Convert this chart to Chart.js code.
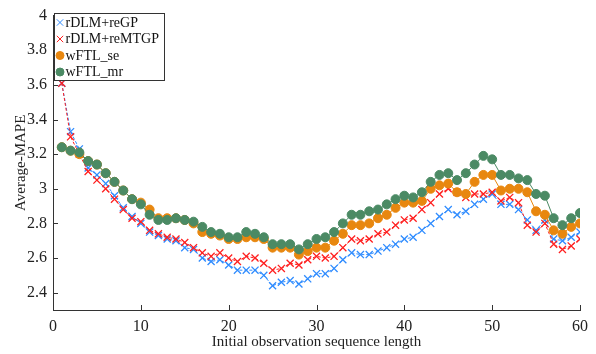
<!DOCTYPE html>
<html><head><meta charset="utf-8">
<script src="https://cdn.jsdelivr.net/npm/chart.js@4/dist/chart.umd.min.js"></script>
<style>html,body{margin:0;padding:0;background:#fff}#wrap{width:596px;height:354px;position:relative}</style>
</head><body><div id="wrap"><canvas id="c" width="596" height="354"></canvas></div>
<script>
const lengths = [1,2,3,4,5,6,7,8,9,10,11,12,13,14,15,16,17,18,19,20,21,22,23,24,25,26,27,28,29,30,31,32,33,34,35,36,37,38,39,40,41,42,43,44,45,46,47,48,49,50,51,52,53,54,55,56,57,58,59,60];
const seriesNames = ['rDLM+reGP','rDLM+reMTGP','wFTL_se','wFTL_mr'];
const reGP = [3.61,3.33,3.23,3.12,3.08,3.03,2.96,2.89,2.84,2.80,2.75,2.73,2.71,2.70,2.66,2.65,2.60,2.58,2.59,2.56,2.53,2.53,2.53,2.50,2.44,2.46,2.47,2.45,2.48,2.51,2.51,2.54,2.59,2.63,2.62,2.62,2.64,2.66,2.68,2.71,2.72,2.76,2.80,2.84,2.88,2.85,2.87,2.91,2.94,2.97,2.91,2.91,2.88,2.82,2.76,2.82,2.71,2.70,2.72,2.75];
const reMTGP = [3.61,3.30,3.20,3.10,3.05,3.00,2.94,2.88,2.83,2.81,2.76,2.74,2.72,2.71,2.69,2.66,2.63,2.61,2.63,2.60,2.58,2.61,2.60,2.57,2.53,2.54,2.57,2.56,2.59,2.61,2.60,2.61,2.66,2.71,2.70,2.71,2.74,2.75,2.79,2.82,2.83,2.88,2.92,2.97,3.00,2.98,2.95,2.97,2.97,2.98,2.93,2.95,2.92,2.79,2.75,2.80,2.68,2.65,2.67,2.71];
const wFTLse = [3.24,3.22,3.20,3.16,3.14,3.09,3.04,2.99,2.94,2.92,2.88,2.83,2.83,2.83,2.82,2.80,2.75,2.74,2.73,2.71,2.71,2.72,2.72,2.71,2.66,2.66,2.66,2.62,2.64,2.66,2.66,2.70,2.74,2.79,2.79,2.80,2.83,2.85,2.89,2.92,2.92,2.93,3.00,3.02,3.03,2.98,2.97,3.04,3.08,3.08,2.99,3.00,3.00,2.98,2.87,2.85,2.76,2.74,2.78,2.80];
const wFTLmr = [3.24,3.22,3.21,3.16,3.14,3.09,3.04,2.99,2.94,2.91,2.85,2.82,2.82,2.83,2.82,2.81,2.78,2.75,2.74,2.72,2.72,2.75,2.74,2.72,2.68,2.68,2.68,2.65,2.68,2.71,2.72,2.75,2.80,2.85,2.85,2.87,2.88,2.91,2.94,2.96,2.95,2.98,3.04,3.08,3.09,3.05,3.09,3.14,3.19,3.17,3.08,3.08,3.06,3.05,2.97,2.96,2.83,2.79,2.83,2.86];
const xTicks = [0,10,20,30,40,50,60];
const yTicks = [2.4,2.6,2.8,3,3.2,3.4,3.6,3.8,4];

const SERIF = '"Liberation Serif", "Times New Roman", serif';
const colors = ['#2f8cff','#ff2020','#e8870f','#4b8a64'];
const styles = [
  {pointStyle:'crossRot', radius:5, dash:[3,2]},
  {pointStyle:'crossRot', radius:5, dash:[3,2]},
  {pointStyle:'circle', radius:4.5, dash:[]},
  {pointStyle:'circle', radius:4.5, dash:[]}
];
const allValues = [reGP, reMTGP, wFTLse, wFTLmr];
const drawOrder = [3,2,1,0];

const datasets = allValues.map((vals,i)=>({
  label: seriesNames[i],
  data: lengths.map((x,k)=>({x:x, y:vals[k]})),
  borderColor: colors[i],
  backgroundColor: colors[i],
  borderWidth: 1,
  borderDash: styles[i].dash,
  pointStyle: styles[i].pointStyle,
  pointRadius: styles[i].radius,
  pointBorderWidth: styles[i].pointStyle==='circle'?1:1.3,
  pointBackgroundColor: colors[i],
  pointBorderColor: colors[i],
  pointHoverRadius: styles[i].radius,
  tension: 0,
  order: drawOrder[i]
}));

const inwardTicks = {
  id:'inwardTicks',
  afterDraw(chart){
    const ctx = chart.ctx, xs = chart.scales.x, ys = chart.scales.y, a = chart.chartArea;
    ctx.save();
    ctx.strokeStyle = '#333'; ctx.lineWidth = 1;
    ctx.beginPath();
    xTicks.forEach(v=>{ const p = Math.round(xs.getPixelForValue(v))+0.5; ctx.moveTo(p, a.bottom); ctx.lineTo(p, a.bottom-5); });
    yTicks.forEach(v=>{ const p = Math.round(ys.getPixelForValue(v))+0.5; ctx.moveTo(a.left, p); ctx.lineTo(a.left+5, p); });
    ctx.stroke();
    ctx.restore();
  }
};

const boxLegend = {
  id:'boxLegend',
  afterDraw(chart){
    const ctx = chart.ctx;
    const bx = 54.5, by = 13.5, bw = 110, bh = 67;
    ctx.save();
    ctx.fillStyle = '#fff';
    ctx.fillRect(bx, by, bw, bh);
    ctx.strokeStyle = '#333'; ctx.lineWidth = 1;
    ctx.strokeRect(bx, by, bw, bh);
    const rows = [22.5, 39, 55.5, 72];
    seriesNames.forEach((name,i)=>{
      ctx.fillStyle = colors[i]; ctx.strokeStyle = colors[i];
      Chart.helpers.drawPoint(ctx, {pointStyle: styles[i].pointStyle, radius: styles[i].pointStyle==='circle'?4:4.5, borderWidth: 1.3, rotation:0}, 60, rows[i]);
      ctx.fillStyle = '#111';
      ctx.font = '14px ' + SERIF;
      ctx.textBaseline = 'middle';
      ctx.textAlign = 'left';
      ctx.fillText(name, 65.5, rows[i]+0.5);
    });
    ctx.restore();
  }
};

new Chart(document.getElementById('c'), {
  type:'line',
  data:{datasets},
  plugins:[inwardTicks, boxLegend],
  options:{
    responsive:false,
    animation:false,
    devicePixelRatio:1,
    layout:{padding:{top:11, right:16, left:0, bottom:0}},
    plugins:{legend:{display:false}, tooltip:{enabled:false}},
    scales:{
      x:{
        type:'linear', min:0, max:60,
        afterBuildTicks(s){ s.ticks = xTicks.map(v=>({value:v})); },
        afterFit(s){ s.height = 44; },
        grid:{drawOnChartArea:false, drawTicks:false},
        border:{display:true, color:'#333', width:1},
        ticks:{color:'#222', font:{family:SERIF, size:16}, padding:7, maxRotation:0},
        title:{display:true, text:'Initial observation sequence length', color:'#222', font:{family:SERIF, size:15}, padding:{top:0,bottom:3}}
      },
      y:{
        type:'linear', min:2.3, max:4,
        afterBuildTicks(s){ s.ticks = yTicks.map(v=>({value:v})); },
        afterFit(s){ s.width = 53; },
        grid:{drawOnChartArea:false, drawTicks:false},
        border:{display:true, color:'#333', width:1},
        ticks:{color:'#222', font:{family:SERIF, size:16}, padding:6, callback:(v)=>String(+Number(v).toFixed(1))},
        title:{display:true, text:'Average-MAPE', color:'#222', font:{family:SERIF, size:15}, padding:{top:12,bottom:0}}
      }
    }
  }
});
</script></body></html>
